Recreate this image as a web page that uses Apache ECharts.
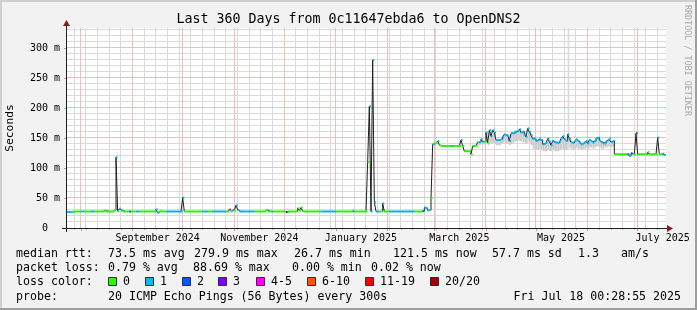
<!DOCTYPE html>
<html><head><meta charset="utf-8">
<script src="https://cdn.jsdelivr.net/npm/echarts@6.0.0/dist/echarts.min.js"></script>
<style>html,body{margin:0;padding:0;background:#f2f2f2}#c{width:697px;height:310px}</style>
</head><body><div id="c"></div>
<script>
// ---------------- DATA ----------------
const titleText = 'Last 360 Days from 0c11647ebda6 to OpenDNS2';
const yAxisName = 'Seconds';
const startTime = Date.UTC(2024, 6, 23, 0, 28, 55);
const spanDays = 360;
const yMax = 333.33;
const yLabelValues = [0, 50, 100, 150, 200, 250, 300];
const xLabelDates = ['2024-09-16', '2024-11-16', '2025-01-16', '2025-03-16', '2025-05-16', '2025-07-16'];
const xLabelTexts = ['September 2024', 'November 2024', 'January 2025', 'March 2025', 'May 2025', 'July 2025'];

// daily median rtt (ms), one value per day from start
const medianRtt = [
 26.7,26.7,26.7,26.7,27.5,27.5,27.5,27.5,27.5,27.5,
 27.5,27.5,27.5,27.5,27.5,27.5,27.5,27.5,27.5,27.5,
 27.5,27.5,27.5,29,27.5,27.5,27.5,27.5,27.5,30,
 118,28,32,29,27.5,27.5,27.5,27.5,27.5,27.5,
 27.5,27.5,27.5,27.5,27.5,27.5,27.5,27.5,27.5,27.5,
 27.5,27.5,27.5,27.5,31,25.5,28,27.5,27.5,27.5,
 27.5,27.5,27.5,27.5,27.5,27.5,27.5,27.5,27.5,27.5,
 50.6,27.5,27.5,27.5,27.5,27.5,27.5,27.5,27.5,27.5,
 27.5,27.5,27.5,27.5,27.5,27.5,27.5,27.5,27.5,27.5,
 27.5,27.5,27.5,27.5,27.5,27.5,27.5,27.5,31,27.5,
 30,29,37.8,30,27.5,27.5,27.5,27.5,27.5,27.5,
 27.5,27.5,27.5,27.5,27.5,27.5,27.5,27.5,27.5,27.5,
 30,27.5,27.5,27.5,27.5,27.5,27.5,27.5,27.5,27.5,
 27.5,27.5,26.7,27.5,27.5,27.5,27.5,27.5,27.5,33,
 29,34,28,27.5,27.5,27.5,27.5,27.5,27.5,27.5,
 27.5,27.5,27.5,27.5,27.5,27.5,27.5,27.5,27.5,27.5,
 27.5,27.5,27.5,27.5,27.5,27.5,27.5,27.5,27.5,27.5,
 27.5,27.5,29,27.5,27.5,27.5,27.5,27.5,27.5,27.5,
 27.5,110,203,27.5,279.9,43,27.5,27.5,27.5,27.5,
 41,27.5,27.5,27.5,27.5,27.5,27.5,27.5,27.5,27.5,
 27.5,27.5,27.5,27.5,27.5,27.5,27.5,27.5,27.5,27.5,
 27.5,27.5,27.5,27.5,28,34,33,29,30,49.5,
 139.5,141,142,145,138,136.7,136.7,136.7,136.7,136.7,
 136.7,136.7,136.7,136.7,136.7,136.7,136.7,146.7,137,128,
 128,128,128,122.8,136.7,137,137,143,143,147.8,
 144,144,159,142,163,153,163,159,146.7,146.7,
 146.7,148,152,156,155,153,145,157.8,158,160.6,
 161,161.7,164.5,159,160.6,156,152,166,160,154.5,
 149,149,145,147,149,146.7,139.5,141,142,149,
 144,138,145,143,142,142,144,149,153,148,
 145,156,149,143,142,145,147.8,145,142,139.5,
 141,143,145,141,146.7,144,142,145,149.5,150.6,
 146,143,141,141,145,147,149,143,145,122.8,
 122.8,122.8,122.8,122.8,122.8,122.8,122.8,122.8,120,124.5,
 122.8,122.8,157.8,122.8,122.8,122.8,122.8,122.8,122.8,126.7,
 122.8,122.8,122.8,122.8,122.8,150.6,122.8,122.8,124,121.5
];
// daily loss colour class (index into lossLabels)
const lossClass = [
 1,1,1,1,0,0,0,0,0,1, 1,0,0,0,0,1,1,0,0,0, 0,0,0,0,0,0,0,0,0,0, 1,0,1,1,0,0,0,0,2,0,
 0,0,1,1,0,0,0,0,0,0, 0,0,0,0,1,1,0,0,0,0, 1,1,1,1,1,1,1,1,1,1, 1,0,0,0,0,0,0,0,0,0,
 0,0,1,1,1,0,0,0,1,1, 1,1,1,1,1,1,0,0,4,0, 1,0,1,1,1,1,1,1,1,1, 1,1,1,0,0,0,0,0,0,0,
 0,0,0,1,0,0,0,0,0,0, 0,0,3,0,0,0,0,0,0,0, 0,0,0,0,0,0,0,0,0,0, 0,0,0,1,1,1,1,1,1,1,
 1,1,0,0,0,0,0,0,0,0, 0,0,1,0,0,0,0,0,0,0, 0,0,1,1,1,1,1,1,0,0, 1,0,0,0,1,1,1,1,1,1,
 1,1,1,1,1,1,1,1,1,0, 0,0,0,0,2,1,1,0,1,0, 1,0,0,1,0,0,0,0,0,0, 0,1,0,0,0,0,0,1,0,0,
 0,0,0,0,0,0,0,0,1,1, 1,0,1,0,1,1,1,1,1,1, 1,1,1,1,1,1,1,1,1,1, 1,1,1,1,1,1,1,1,1,1,
 1,1,1,1,1,1,1,1,1,1, 1,1,1,1,1,1,1,1,1,1, 1,1,1,1,1,1,1,1,1,1, 1,1,1,1,1,1,1,1,1,1,
 1,1,1,1,1,1,1,1,1,0, 0,0,0,0,0,0,0,2,1,2, 0,0,2,0,0,0,0,0,0,0, 0,0,0,0,0,1,0,0,1,1
];
// smoke (ping spread) lower edge, days 247..328
const smokeFirstDay = 247;
const smokeLow = [
 138,138,141,139,139,
 140,138,142,140,142,140,138,138,138,140,142,
 142,142,140,138,140,142,144,145,146,145,144,143,142,140,145,142,138,
 132,132,130,130,132,130,128,128,128,130,128,128,130,128,128,128,130,132,132,130,130,
 132,134,132,130,132,134,132,132,130,132,132,134,132,134,134,132,134,136,136,134,132,132,134,134,136,134,134,136
];
const smokeTallDays = [301];
const smokeTallTop = [333.33];

const lossLabels = ['0', '1', '2', '3', '4-5', '6-10', '11-19', '20/20'];
const lossColors = ['#26ff00', '#00b8ff', '#0059ff', '#7e00ff', '#ff00ff', '#ff5500', '#ff0000', '#a00000'];
const rttStats = ['73.5 ms avg', '279.9 ms max', '26.7 ms min', '121.5 ms now', '57.7 ms sd', '1.3', 'am/s'];
const lossStats = ['0.79 % avg', '88.69 % max', '0.00 % min', '0.02 % now'];
const probeText = '20 ICMP Echo Pings (56 Bytes) every 300s';
const stampText = 'Fri Jul 18 00:28:55 2025';
const watermark = 'RRDTOOL / TOBI OETIKER';

// ---------------- BUILD ----------------
const DAY = 86400000;
const MONO = '"DejaVu Sans Mono", monospace';
const GRIDC = '#dadada';
const MGRIDC = '#f2bcbc';
const TICKC = 'rgba(222,79,79,0.6)';
const AXISC = '#1f1f1f';
const ARROWC = '#801f1f';
const PLOT = { left: 66, top: 28, width: 600, height: 200 };
const toDay = (t) => (t - startTime) / DAY;

const weekTicks = [];
for (let t = Date.UTC(2024, 6, 28); toDay(t) < spanDays; t += 7 * DAY) weekTicks.push(toDay(t));
const monthTicks = [];
for (let k = 0; k < 12; k++) monthTicks.push(toDay(Date.UTC(2024, 7 + k, 1)));
const yMinor = [], yMajor = [];
for (let v = 10; v < yMax; v += 10) (v % 50 === 0 ? yMajor : yMinor).push(v);
const labelDays = xLabelDates.map(d => toDay(Date.parse(d + 'T00:00:00Z')));

const lineData = medianRtt.map((v, i) => [i, v]);
lineData.push([spanDays, medianRtt[medianRtt.length - 1]]);
const segData = medianRtt.map((v, i) => [i, v, lossClass[i]]);
const smokeData = smokeLow.map((lo, k) => {
  const d = smokeFirstDay + k;
  const ti = smokeTallDays.indexOf(d);
  const hi = ti >= 0 ? smokeTallTop[ti] : medianRtt[d];
  return [d, lo, hi, ti >= 0 ? 1 : 0];
});

const chart = echarts.init(document.getElementById('c'), null, { renderer: 'canvas' });

const graphics = [];
graphics.push({ type: 'rect', shape: { x: 0, y: 0, width: 697, height: 2 }, style: { fill: '#cfcfcf' }, silent: true });
graphics.push({ type: 'rect', shape: { x: 0, y: 0, width: 2, height: 310 }, style: { fill: '#cfcfcf' }, silent: true });
graphics.push({ type: 'rect', shape: { x: 695, y: 0, width: 2, height: 310 }, style: { fill: '#9e9e9e' }, silent: true });
graphics.push({ type: 'rect', shape: { x: 0, y: 308, width: 697, height: 2 }, style: { fill: '#9e9e9e' }, silent: true });
graphics.push({ type: 'line', shape: { x1: 62, y1: 228.5, x2: 668, y2: 228.5 }, style: { stroke: AXISC, lineWidth: 1 }, z: 50 });
graphics.push({ type: 'line', shape: { x1: 66.5, y1: 232, x2: 66.5, y2: 24 }, style: { stroke: AXISC, lineWidth: 1 }, z: 50 });
graphics.push({ type: 'polygon', shape: { points: [[667, 225], [673, 228.5], [667, 232]] }, style: { fill: ARROWC }, z: 50 });
graphics.push({ type: 'polygon', shape: { points: [[63, 26], [66.5, 20], [70, 26]] }, style: { fill: ARROWC }, z: 50 });
graphics.push({ type: 'text', x: 348.5, y: 19.5, style: { text: titleText, font: '13.3px ' + MONO, fill: '#000', align: 'center', verticalAlign: 'middle' } });
graphics.push({ type: 'text', x: 10.5, y: 128, rotation: Math.PI / 2, style: { text: yAxisName, font: '11.3px ' + MONO, fill: '#000', align: 'center', verticalAlign: 'middle' } });
graphics.push({ type: 'text', x: 687, y: 5, rotation: -Math.PI / 2, style: { text: watermark, font: '8.4px ' + MONO, fill: '#a6a6a6', align: 'left', verticalAlign: 'middle' } });

const LF = '11.6px ' + MONO;
function txt(s, x, y, align) {
  graphics.push({ type: 'text', x: x, y: y, style: { text: s, font: LF, fill: '#000', align: align || 'left', verticalAlign: 'middle' } });
}
const rowY = [254, 268, 282, 297];
const rttX = [108, 194, 294, 393, 492, 578, 621];
const lossX = [108, 193, 292, 371];
const boxX = [108, 145, 182, 218, 256, 307, 365, 430];
txt('median rtt:', 16, rowY[0]);
rttStats.forEach((s, i) => txt(s, rttX[i], rowY[0]));
txt('packet loss:', 16, rowY[1]);
lossStats.forEach((s, i) => txt(s, lossX[i], rowY[1]));
txt('loss color:', 16, rowY[2]);
lossLabels.forEach((s, i) => {
  graphics.push({ type: 'rect', shape: { x: boxX[i] + 0.5, y: rowY[2] - 4.5, width: 8, height: 8 }, style: { fill: lossColors[i], stroke: '#303030', lineWidth: 1 } });
  txt(s, boxX[i] + 15, rowY[2]);
});
txt('probe:', 16, rowY[3]);
txt(probeText, 108, rowY[3]);
txt(stampText, 681, rowY[3], 'right');

function gridRender(params, api) {
  const cs = params.coordSys;
  const children = [];
  const addV = (vals, color) => vals.forEach(v => {
    const x = Math.floor(api.coord([v, 0])[0]);
    children.push({ type: 'rect', shape: { x: x, y: cs.y, width: 1, height: cs.height }, style: { fill: color } });
  });
  const addH = (vals, color) => vals.forEach(v => {
    const y = Math.floor(api.coord([0, v])[1]);
    children.push({ type: 'rect', shape: { x: cs.x + 1, y: y, width: cs.width - 1, height: 1 }, style: { fill: color } });
  });
  addV(weekTicks, GRIDC);
  addH(yMinor, GRIDC);
  addV(monthTicks, MGRIDC);
  addH(yMajor, MGRIDC);
  return { type: 'group', children };
}

const option = {
  animation: false,
  backgroundColor: '#f2f2f2',
  grid: Object.assign({ show: true, backgroundColor: '#ffffff', borderWidth: 0 }, PLOT),
  xAxis: [{
    type: 'value', min: 0, max: spanDays, position: 'bottom',
    axisLine: { show: false }, splitLine: { show: false },
    axisTick: { show: true, customValues: monthTicks, length: 3, lineStyle: { color: TICKC } },
    axisLabel: {
      customValues: labelDays, margin: 5, color: '#000', fontFamily: MONO, fontSize: 10,
      formatter: (v) => {
        let best = 0;
        labelDays.forEach((d, i) => { if (Math.abs(d - v) < Math.abs(labelDays[best] - v)) best = i; });
        return xLabelTexts[best];
      }
    }
  }, {
    type: 'value', min: 0, max: spanDays, position: 'bottom',
    axisLine: { show: false }, splitLine: { show: false }, axisLabel: { show: false },
    axisTick: { show: true, customValues: weekTicks, length: 2, lineStyle: { color: '#b0b0b0' } }
  }],
  yAxis: {
    type: 'value', min: 0, max: yMax, interval: 50,
    axisLine: { show: false }, splitLine: { show: false },
    axisTick: { show: true, customValues: yLabelValues, length: 2, lineStyle: { color: TICKC } },
    axisLabel: {
      customValues: yLabelValues, margin: 6, color: '#000', fontFamily: MONO, fontSize: 10,
      formatter: (v) => v === 0 ? '0  ' : v + ' m'
    }
  },
  series: [
    {
      type: 'custom', z: 1, silent: true, clip: false, data: [[1, 1]],
      renderItem: gridRender
    },
    {
      type: 'custom', z: 2, silent: true, clip: true, data: smokeData,
      renderItem: (params, api) => {
        const d = api.value(0);
        const a = api.coord([d, api.value(2)]);
        const b = api.coord([d + 1, api.value(1)]);
        return { type: 'rect', shape: { x: a[0], y: a[1], width: b[0] - a[0], height: b[1] - a[1] },
          style: { fill: api.value(3) ? '#dadada' : '#cdcdcd' } };
      }
    },
    {
      type: 'line', z: 3, data: lineData, step: 'end', symbol: 'none', silent: true,
      lineStyle: { color: '#202020', width: 1 }
    },
    {
      type: 'custom', z: 4, silent: true, clip: true, data: segData,
      renderItem: (params, api) => {
        const d = api.value(0), v = api.value(1), l = api.value(2);
        const a = api.coord([d, v]);
        const b = api.coord([d + 1, v]);
        return { type: 'line', shape: { x1: a[0], y1: a[1], x2: b[0], y2: b[1] }, style: { stroke: lossColors[l], lineWidth: 2 } };
      }
    }
  ],
  graphic: graphics
};
chart.setOption(option);
</script></body></html>
